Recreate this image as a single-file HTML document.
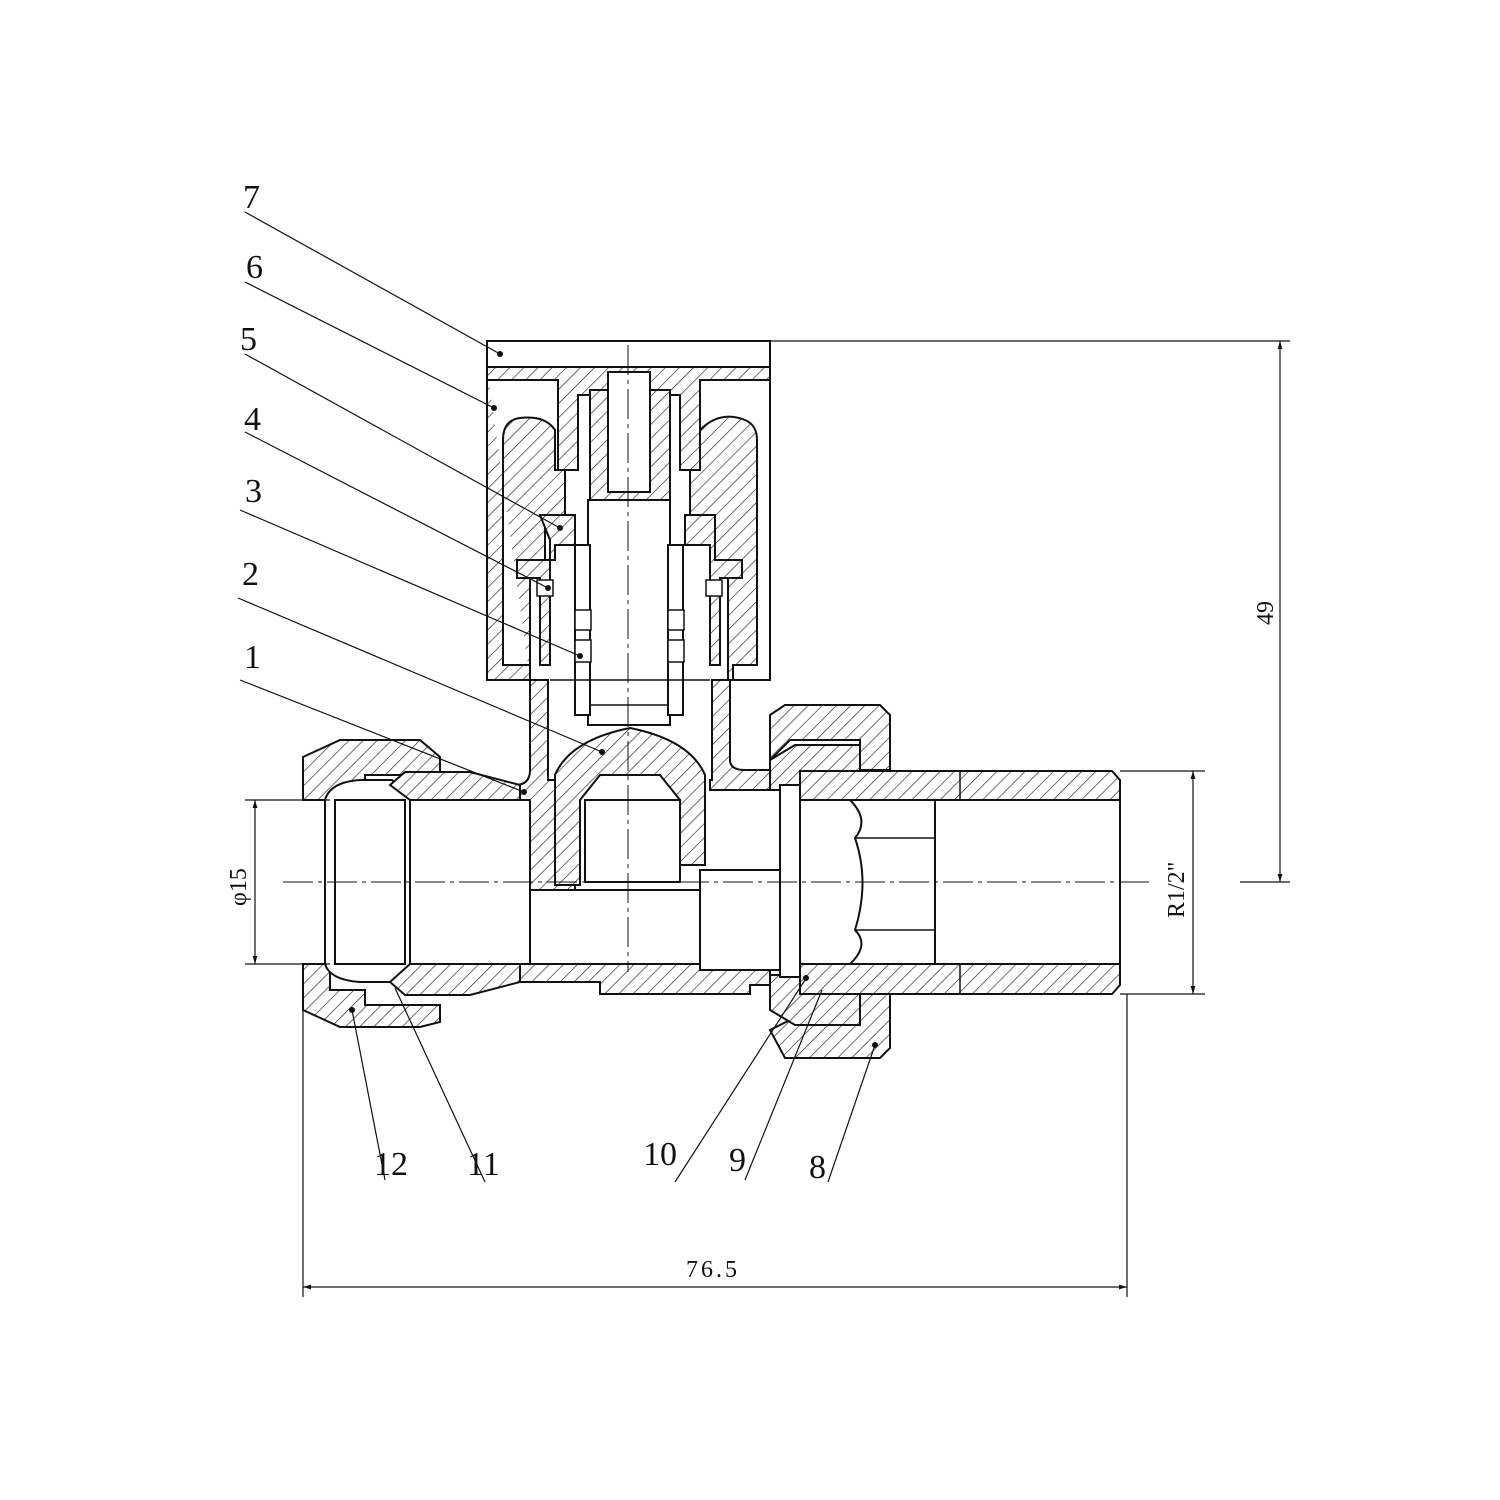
<!DOCTYPE html>
<html><head><style>html,body{margin:0;padding:0;background:#fff}svg{display:block}</style></head><body>
<svg width="1500" height="1500" viewBox="0 0 1500 1500" xmlns="http://www.w3.org/2000/svg" font-family="Liberation Serif, serif">
<defs>
<pattern id="h" width="10" height="10" patternUnits="userSpaceOnUse" patternTransform="rotate(45)">
<rect width="10" height="10" fill="#fff"/><line x1="0" y1="0" x2="0" y2="10" stroke="#222" stroke-width="1.3"/></pattern>
<marker id="a" viewBox="0 0 10 10" refX="10" refY="5" markerWidth="14" markerHeight="8" orient="auto-start-reverse" markerUnits="userSpaceOnUse"><path d="M0,2 L10,5 L0,8 z" fill="#111"/></marker>
</defs>
<g stroke="#111" stroke-width="2" fill="url(#h)">
<!-- cap 7 -->
<rect x="487" y="341" width="283" height="26" fill="#fff"/>
<rect x="505" y="367" width="250" height="10" fill="#fff"/>
<!-- handle 6 -->
<path d="M487,367 H770 V680 H728 V560 H712 V520 H690 V470 H700 V430 Q720,410 745,420 Q757,425 757,440 V665 H733 V680 H770 V367 Z" />
<path d="M487,367 V680 H530 V665 H503 V440 Q503,420 520,418 Q545,415 555,430 V470 H565 V520 H545 V560 H530 V680"/>
<path d="M487,367 H770 V380 H700 V470 H680 V395 H578 V470 H558 V380 H487 Z"/>
<!-- stem top -->
<path d="M590,390 H670 V500 L630,515 L590,500 Z"/>
<rect x="608" y="372" width="42" height="120" fill="#fff"/>
<!-- bonnet 5 -->
<path d="M540,515 H575 V545 H555 V560 H517 V578 H540 V665 H550 V540 Z"/>
<path d="M685,515 H715 V560 H742 V578 H720 V665 H710 V545 H685 Z"/>
<!-- spindle -->
<rect x="588" y="500" width="82" height="225" fill="#fff"/>
<rect x="575" y="545" width="15" height="170" fill="#fff"/>
<rect x="668" y="545" width="15" height="170" fill="#fff"/>
<g fill="#fff" stroke-width="1.5"><rect x="537" y="580" width="16" height="16"/><rect x="706" y="580" width="16" height="16"/>
<rect x="575" y="610" width="16" height="20"/><rect x="575" y="640" width="16" height="22"/><rect x="668" y="610" width="16" height="20"/><rect x="668" y="640" width="16" height="22"/></g>
<!-- body 1 -->
<path d="M530,680 H548 V780 H575 V890 H532 V895 H430 V785 H515 Q530,785 530,770 Z"/>
<path d="M730,680 H712 V780 H710 V790 H770 V770 H745 Q730,770 730,760 Z"/>
<!-- disc 2 -->
<path d="M555,775 Q570,740 630,728 Q690,740 705,775 V865 H680 V800 L660,775 H600 L580,800 V885 H555 Z"/>
<rect x="585" y="800" width="95" height="82" fill="#fff"/>
<!-- body bottom -->
<path d="M430,964 H770 V985 H750 V994 H600 L600,982 H430 Z"/>
<path d="M530,890 H700 V964 H530 Z" fill="#fff"/>
<path d="M700,870 H780 V970 H700 Z" fill="#fff"/>
<!-- left nut 12 -->
<path d="M303,757 L340,740 H420 L440,757 V775 H365 V800 H330 V800 H303 Z"/>
<path d="M303,964 H330 V990 H365 V1005 H440 V1022 L420,1027 H340 L303,1010 Z"/>
<!-- olive 11 -->
<path d="M325,800 Q330,782 360,780 H392 L410,800 V964 L392,982 H360 Q330,980 325,964 Z" fill="#fff"/>
<path d="M390,785 L405,772 H470 L520,785 V800 H410 Z"/>
<path d="M390,982 L405,995 H470 L520,982 V964 H410 Z"/>
<rect x="410" y="800" width="120" height="164" fill="#fff"/>
<rect x="335" y="800" width="70" height="164" fill="#fff"/>
<!-- right nut 8 -->
<path d="M770,715 L785,705 H880 L890,715 V770 H860 V740 H790 L770,760 Z"/>
<path d="M770,1030 L785,1058 H880 L890,1048 V994 H860 V1020 H790 L770,1030 Z"/>
<path d="M770,760 L795,745 H860 V771 H820 L800,790 H770 Z"/>
<path d="M770,1010 L795,1025 H860 V994 H820 L800,975 H770 Z"/>
<!-- tailpiece -->
<path d="M800,771 H1112 L1120,780 V800 H800 Z"/>
<path d="M800,994 H1112 L1120,985 V964 H800 Z"/>
<rect x="800" y="800" width="320" height="164" fill="#fff"/>
<rect x="780" y="785" width="20" height="192" fill="#fff"/>
<path d="M850,800 H935 V964 H850 Q870,945 855,930 Q870,882 855,838 Q870,820 850,800 Z" fill="#fff"/>
</g>
<!-- inner lines -->
<g stroke="#111" stroke-width="1.5" fill="none">
<line x1="960" y1="771" x2="960" y2="800"/><line x1="960" y1="964" x2="960" y2="994"/>
<line x1="855" y1="838" x2="935" y2="838"/><line x1="855" y1="930" x2="935" y2="930"/>
<line x1="590" y1="705" x2="668" y2="705"/><line x1="550" y1="680" x2="710" y2="680"/>
</g>
<!-- centerlines -->
<g stroke="#111" stroke-width="1" stroke-dasharray="30,5,4,5" fill="none">
<line x1="283" y1="882" x2="1150" y2="882"/><line x1="628" y1="345" x2="628" y2="972"/>
</g>
<!-- dimensions -->
<g stroke="#111" stroke-width="1.2" fill="none">
<line x1="770" y1="341" x2="1290" y2="341"/><line x1="1240" y1="882" x2="1290" y2="882"/>
<line x1="1280" y1="341" x2="1280" y2="882" marker-start="url(#a)" marker-end="url(#a)"/>
<line x1="1120" y1="771" x2="1205" y2="771"/><line x1="1120" y1="994" x2="1205" y2="994"/>
<line x1="1193" y1="771" x2="1193" y2="994" marker-start="url(#a)" marker-end="url(#a)"/>
<line x1="245" y1="800" x2="330" y2="800"/><line x1="245" y1="964" x2="330" y2="964"/>
<line x1="255" y1="800" x2="255" y2="964" marker-start="url(#a)" marker-end="url(#a)"/>
<line x1="303" y1="1010" x2="303" y2="1297"/><line x1="1127" y1="994" x2="1127" y2="1297"/>
<line x1="303" y1="1287" x2="1127" y2="1287" marker-start="url(#a)" marker-end="url(#a)"/>
<!-- leaders -->
<line x1="245" y1="212" x2="500" y2="354"/><line x1="245" y1="282" x2="494" y2="408"/>
<line x1="245" y1="354" x2="560" y2="528"/><line x1="245" y1="432" x2="548" y2="588"/>
<line x1="240" y1="510" x2="580" y2="656"/><line x1="238" y1="598" x2="602" y2="752"/>
<line x1="240" y1="680" x2="524" y2="792"/>
<line x1="385" y1="1180" x2="352" y2="1010"/><line x1="485" y1="1182" x2="395" y2="988"/>
<line x1="675" y1="1182" x2="805" y2="980"/><line x1="745" y1="1180" x2="822" y2="990"/>
<line x1="828" y1="1182" x2="875" y2="1045"/>
</g>
<g fill="#111">
<circle cx="500" cy="354" r="3"/><circle cx="494" cy="408" r="3"/><circle cx="560" cy="528" r="3"/><circle cx="548" cy="588" r="3"/><circle cx="580" cy="656" r="3"/><circle cx="602" cy="752" r="3"/><circle cx="524" cy="792" r="3"/><circle cx="352" cy="1010" r="3"/><circle cx="875" cy="1045" r="3"/><circle cx="806" cy="978" r="3"/>
</g>
<g font-size="34" fill="#111">
<text x="243" y="208">7</text><text x="246" y="278">6</text><text x="240" y="350">5</text><text x="244" y="430">4</text><text x="245" y="502">3</text><text x="242" y="585">2</text><text x="244" y="668">1</text>
<text x="374" y="1175">12</text><text x="467" y="1175">11</text><text x="643" y="1165">10</text><text x="729" y="1171">9</text><text x="809" y="1178">8</text>
</g>
<g font-size="24" fill="#111">
<text x="686" y="1277" letter-spacing="3">76.5</text>
<text transform="translate(1273,625) rotate(-90)">49</text>
<text transform="translate(1184,918) rotate(-90)">R1/2"</text>
<text transform="translate(246,906) rotate(-90)">φ15</text>
</g>
</svg>
</body></html>
